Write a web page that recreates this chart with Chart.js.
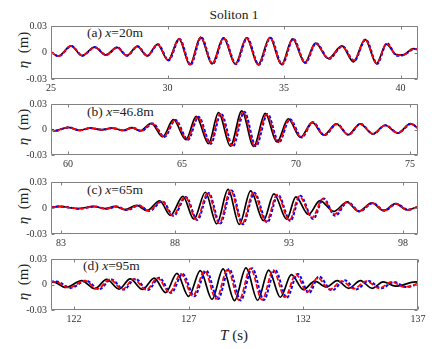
<!DOCTYPE html>
<html><head><meta charset="utf-8">
<script src="https://cdn.jsdelivr.net/npm/chart.js@4"></script>
<style>
html,body{margin:0;padding:0;background:#fff;}
#wrap{position:relative;width:448px;height:349px;overflow:hidden;font-family:"Liberation Serif","Times New Roman","DejaVu Serif",serif;color:#222;}
canvas{position:absolute;left:0;}
.lbl{position:absolute;white-space:pre;line-height:1;}
.ylab{position:absolute;white-space:pre;line-height:1;font-size:15px;transform:translate(-50%,-50%) rotate(-90deg);}
i{font-style:italic;}
</style></head><body><div id="wrap">
<div class="lbl" style="left:234px;top:8px;font-size:13.5px;transform:translateX(-50%);">Soliton 1</div>
<div class="lbl" style="left:87px;top:26px;font-size:13.5px;">(a) <i>x</i>=20m</div>
<div class="lbl" style="left:87px;top:105px;font-size:13.5px;">(b) <i>x</i>=46.8m</div>
<div class="lbl" style="left:87px;top:183px;font-size:13.5px;">(c) <i>x</i>=65m</div>
<div class="lbl" style="left:83px;top:259px;font-size:13.5px;">(d) <i>x</i>=95m</div>
<div class="ylab" style="left:23px;top:50px;"><i>η</i>  (m)</div>
<div class="ylab" style="left:23px;top:127px;"><i>η</i>  (m)</div>
<div class="ylab" style="left:23px;top:206px;"><i>η</i>  (m)</div>
<div class="ylab" style="left:23px;top:282px;"><i>η</i>  (m)</div>
<div class="lbl" style="left:234px;top:328px;font-size:15px;transform:translateX(-50%);"><i>T</i> (s)</div>
<canvas id="ca" width="448" height="81" style="top:16px"></canvas>
<canvas id="cb" width="448" height="79" style="top:94px"></canvas>
<canvas id="cc" width="448" height="80" style="top:172px"></canvas>
<canvas id="cd" width="448" height="79" style="top:249px"></canvas>
</div>
<script>
// ---- tick values ----
const yTicks = [-0.03, 0, 0.03];
const xTicksA = [25, 30, 35, 40];
const xTicksB = [60, 65, 70, 75];
const xTicksC = [83, 88, 93, 98];
const xTicksD = [122, 127, 132, 137];

// ---- (a) x=20m : [T (s), eta (m)] at crests/troughs ----
const aBlack = [[25,0.0005],[25.31,-0.004],[25.86,0.0075],[26.33,-0.0035],[26.87,0.006],[27.35,-0.0028],[27.83,0.0058],[28.25,-0.0035],[28.7,0.007],[29.12,-0.0038],[29.57,0.0093],[30.02,-0.0088],[30.49,0.0155],[30.96,-0.0138],[31.42,0.0175],[31.91,-0.0128],[32.4,0.0165],[32.91,-0.013],[33.39,0.0165],[33.89,-0.0138],[34.39,0.017],[34.89,-0.0135],[35.37,0.0155],[35.89,-0.0115],[36.35,0.0105],[36.9,-0.0068],[37.48,0.0075],[37.98,-0.0105],[38.48,0.0148],[38.97,-0.0125],[39.39,0.0095],[39.82,-0.0025],[40.1,-0.0028],[40.55,0.0045],[40.75,0.003]];
const aBlue  = [[25,0.0005],[25.33,-0.0041],[25.88,0.0074],[26.35,-0.0036],[26.89,0.006],[27.37,-0.0029],[27.85,0.0058],[28.27,-0.0036],[28.72,0.007],[29.14,-0.0039],[29.6,0.0092],[30.05,-0.009],[30.52,0.0153],[30.99,-0.014],[31.45,0.0172],[31.94,-0.013],[32.43,0.0163],[32.94,-0.0132],[33.42,0.0163],[33.92,-0.014],[34.42,0.0168],[34.92,-0.0137],[35.4,0.0154],[35.92,-0.0118],[36.38,0.0106],[36.93,-0.0072],[37.51,0.007],[38.01,-0.0095],[38.51,0.0147],[39.0,-0.0128],[39.42,0.0105],[39.85,-0.0038],[40.14,-0.003],[40.6,0.004],[40.75,0.0035]];
const aRed   = [[25,0.0005],[25.32,-0.004],[25.87,0.0074],[26.34,-0.0035],[26.88,0.006],[27.36,-0.0028],[27.84,0.0058],[28.26,-0.0035],[28.71,0.007],[29.13,-0.0038],[29.58,0.0092],[30.03,-0.0088],[30.5,0.0155],[30.97,-0.0138],[31.43,0.0172],[31.92,-0.0128],[32.41,0.0163],[32.92,-0.013],[33.4,0.0162],[33.9,-0.0138],[34.4,0.0168],[34.9,-0.0135],[35.38,0.0153],[35.9,-0.0115],[36.36,0.0102],[36.91,-0.0068],[37.49,0.0068],[37.99,-0.009],[38.49,0.0145],[38.98,-0.0125],[39.4,0.0098],[39.84,-0.003],[40.12,-0.0028],[40.58,0.0042],[40.75,0.0035]];

// ---- (b) x=46.8m ----
const bBlack = [[59.25,0],[59.4,-0.0015],[60.0,0.0026],[60.48,-0.001],[60.96,0.0017],[61.47,-0.0003],[61.91,0.0017],[62.42,-0.0011],[62.79,0.0022],[63.15,-0.0016],[63.65,0.0073],[64.15,-0.0085],[64.62,0.0115],[65.17,-0.012],[65.62,0.0155],[66.16,-0.0165],[66.6,0.0198],[67.12,-0.0195],[67.62,0.0218],[68.14,-0.0198],[68.65,0.019],[69.16,-0.0147],[69.66,0.0124],[70.19,-0.0092],[70.71,0.0084],[71.21,-0.0066],[71.77,0.0065],[72.28,-0.0062],[72.81,0.0065],[73.37,-0.0052],[73.9,0.005],[74.46,-0.0042],[75.02,0.007],[75.35,0.0015]];
const bBlue  = [[59.25,0],[59.43,-0.0015],[60.03,0.0025],[60.51,-0.001],[60.99,0.0017],[61.5,-0.0004],[61.94,0.0017],[62.46,-0.0012],[62.84,0.0022],[63.21,-0.0017],[63.72,0.007],[64.23,-0.0087],[64.71,0.0112],[65.26,-0.0122],[65.72,0.015],[66.26,-0.0168],[66.71,0.0188],[67.23,-0.0197],[67.73,0.0208],[68.24,-0.0198],[68.75,0.0182],[69.25,-0.0152],[69.73,0.0122],[70.25,-0.0093],[70.74,0.0086],[71.25,-0.0068],[71.8,0.0066],[72.3,-0.0062],[72.83,0.0066],[73.39,-0.0052],[73.92,0.005],[74.48,-0.0042],[75.04,0.0066],[75.35,0.0018]];
const bRed   = [[59.25,0],[59.42,-0.0015],[60.02,0.0025],[60.5,-0.001],[60.98,0.0017],[61.49,-0.0004],[61.93,0.0017],[62.45,-0.0012],[62.82,0.0022],[63.19,-0.0017],[63.69,0.007],[64.2,-0.0085],[64.68,0.011],[65.22,-0.0118],[65.68,0.0148],[66.22,-0.0162],[66.67,0.0185],[67.18,-0.019],[67.68,0.0205],[68.19,-0.0195],[68.71,0.0178],[69.21,-0.015],[69.7,0.0118],[70.22,-0.009],[70.73,0.0083],[71.23,-0.0066],[71.79,0.0064],[72.29,-0.006],[72.82,0.0064],[73.38,-0.0051],[73.91,0.0049],[74.47,-0.0041],[75.03,0.0066],[75.35,0.0016]];

// ---- (c) x=65m ----
const cBlack = [[82.56,0.0005],[82.88,0.0018],[83.76,-0.0007],[84.42,0.0018],[84.93,-0.0007],[85.37,0.0018],[85.8,-0.0018],[86.32,0.003],[86.76,-0.003],[87.33,0.0083],[87.8,-0.0085],[88.35,0.0133],[88.83,-0.013],[89.33,0.0182],[89.83,-0.0182],[90.33,0.0215],[90.82,-0.019],[91.32,0.0198],[91.88,-0.0145],[92.34,0.0163],[92.9,-0.013],[93.3,0.0128],[93.85,-0.0075],[94.36,0.0085],[94.96,-0.004],[95.55,0.0068],[96.05,-0.0038],[96.64,0.0058],[97.15,-0.003],[97.67,0.005],[98.18,-0.0022],[98.66,0.0015]];
const cBlue  = [[82.56,0.0006],[82.94,0.0017],[83.82,-0.0008],[84.48,0.0017],[85.0,-0.001],[85.44,0.0016],[85.9,-0.0024],[86.43,0.003],[86.88,-0.0034],[87.45,0.0078],[87.94,-0.009],[88.48,0.0128],[88.98,-0.0138],[89.48,0.0172],[89.98,-0.018],[90.48,0.0202],[90.98,-0.0188],[91.48,0.0175],[92.05,-0.0165],[92.52,0.0152],[93.06,-0.015],[93.5,0.014],[94.06,-0.0128],[94.52,0.011],[95.02,-0.009],[95.58,0.007],[96.1,-0.004],[96.68,0.0056],[97.2,-0.003],[97.72,0.0048],[98.22,-0.002],[98.66,0.0012]];
const cRed   = [[82.56,0.0006],[82.92,0.0017],[83.8,-0.0008],[84.46,0.0017],[84.98,-0.0009],[85.42,0.0017],[85.86,-0.0022],[86.4,0.0032],[86.84,-0.0032],[87.42,0.008],[87.9,-0.0088],[88.45,0.013],[88.94,-0.0135],[89.44,0.0175],[89.94,-0.0178],[90.44,0.0205],[90.94,-0.0185],[91.44,0.0178],[92.0,-0.016],[92.48,0.0155],[93.02,-0.0145],[93.45,0.0135],[94.02,-0.011],[94.48,0.0105],[95.0,-0.007],[95.56,0.0068],[96.08,-0.0038],[96.66,0.0056],[97.18,-0.003],[97.7,0.0048],[98.2,-0.0022],[98.66,0.0014]];

// ---- (d) x=95m ----
const dBlack = [[121,0.0025],[121.1,0.003],[121.65,-0.0035],[122.34,0.0045],[122.9,-0.005],[123.43,0.006],[123.97,-0.0055],[124.45,0.0065],[124.99,-0.0058],[125.5,0.0075],[126.0,-0.0095],[126.49,0.013],[127.0,-0.014],[127.51,0.0163],[128.02,-0.0175],[128.5,0.0183],[129.0,-0.019],[129.5,0.0195],[130.01,-0.0185],[130.49,0.017],[131.0,-0.015],[131.48,0.0115],[132.0,-0.006],[132.5,0.004],[133.0,-0.003],[133.48,0.0045],[133.98,-0.0045],[134.49,0.0045],[135.0,-0.0045],[135.48,0.003],[136.02,-0.002],[136.9,0.003],[137,0.0028]];
const dBlue  = [[121,0.0035],[121.25,0.0035],[121.85,-0.004],[122.53,0.0045],[123.1,-0.0055],[123.63,0.006],[124.18,-0.006],[124.67,0.0068],[125.22,-0.0065],[125.72,0.0078],[126.24,-0.0098],[126.74,0.0125],[127.25,-0.0138],[127.77,0.0162],[128.28,-0.0172],[128.77,0.0182],[129.27,-0.0188],[129.77,0.0192],[130.28,-0.0182],[130.77,0.0172],[131.28,-0.0155],[131.76,0.0125],[132.25,-0.01],[132.68,0.0095],[133.25,-0.007],[133.8,0.005],[134.3,-0.0058],[134.85,0.004],[135.4,-0.0045],[135.95,0.003],[136.5,-0.003],[137,0.0005]];
const dRed   = [[121,0.003],[121.2,0.0032],[121.78,-0.0038],[122.47,0.0045],[123.03,-0.0052],[123.57,0.006],[124.12,-0.0058],[124.6,0.0065],[125.15,-0.0062],[125.65,0.0075],[126.17,-0.0095],[126.67,0.0125],[127.18,-0.0135],[127.7,0.016],[128.2,-0.017],[128.7,0.018],[129.2,-0.0185],[129.7,0.019],[130.2,-0.018],[130.69,0.017],[131.2,-0.015],[131.68,0.012],[132.17,-0.009],[132.62,0.008],[133.15,-0.006],[133.68,0.004],[134.2,-0.005],[134.75,0.004],[135.3,-0.0045],[135.85,0.003],[136.4,-0.003],[137,0.0012]];

const FONT = '"Liberation Serif","Times New Roman","DejaVu Serif",serif';
const PLOT_H = {ca: 57, cb: 55, cc: 56, cd: 55};

const framePlugin = {
  id: 'frame',
  afterDraw(chart) {
    const {ctx, chartArea: a, scales: {x, y}} = chart;
    ctx.save();
    ctx.strokeStyle = '#808080';
    ctx.lineWidth = 1;
    ctx.beginPath();
    const L = Math.round(a.left) + 0.5, R = Math.round(a.right) - 0.5;
    const T = Math.round(a.top) + 0.5, B = Math.round(a.bottom) - 0.5;
    ctx.rect(L, T, R - L, B - T);
    x.ticks.forEach(t => {
      const p = Math.round(x.getPixelForValue(t.value)) + 0.5;
      ctx.moveTo(p, B); ctx.lineTo(p, B - 3);
      ctx.moveTo(p, T); ctx.lineTo(p, T + 3);
    });
    y.ticks.forEach(t => {
      const p = Math.round(y.getPixelForValue(t.value)) + 0.5;
      ctx.moveTo(L, p); ctx.lineTo(L + 3, p);
      ctx.moveTo(R, p); ctx.lineTo(R - 3, p);
    });
    ctx.stroke();
    ctx.restore();
  }
};

function toPts(arr) { return arr.map(p => ({x: p[0], y: p[1]})); }

function makePanel(id, xmin, xmax, xticks, black, blue, red) {
  const cv = document.getElementById(id);
  new Chart(cv.getContext('2d'), {
    type: 'line',
    data: {
      datasets: [
        {label: 'red', data: toPts(red), borderColor: '#ff0000', borderDash: [5, 2], borderWidth: 1.7,
         pointRadius: 0, cubicInterpolationMode: 'monotone', fill: false},
        {label: 'blue', data: toPts(blue), borderColor: '#0000ff', borderDash: [3, 2], borderWidth: 2,
         pointRadius: 0, cubicInterpolationMode: 'monotone', fill: false},
        {label: 'black', data: toPts(black), borderColor: '#000000', borderWidth: 1.7,
         pointRadius: 0, cubicInterpolationMode: 'monotone', fill: false}
      ]
    },
    options: {
      responsive: false,
      animation: false,
      events: [],
      layout: {padding: {top: 6, right: 30, left: 0, bottom: 0}},
      plugins: {legend: {display: false}, tooltip: {enabled: false}, title: {display: false}},
      scales: {
        x: {
          type: 'linear', min: xmin, max: xmax,
          afterFit(s) { s.height = cv.height - 6 - PLOT_H[id]; },
          afterBuildTicks(s) { s.ticks = xticks.map(v => ({value: v})); },
          grid: {display: false, drawTicks: false},
          border: {display: false},
          ticks: {font: {family: FONT, size: 10}, color: '#333', padding: 3, maxRotation: 0, autoSkip: false,
                  callback: v => String(v)}
        },
        y: {
          min: -0.03, max: 0.03,
          afterFit(s) { s.width = 51; },
          afterBuildTicks(s) { s.ticks = yTicks.map(v => ({value: v})); },
          grid: {display: false, drawTicks: false},
          border: {display: false},
          ticks: {font: {family: FONT, size: 10}, color: '#333', padding: 4,
                  callback: v => (Math.abs(v) < 1e-9 ? '0' : v.toFixed(2))}
        }
      }
    },
    plugins: [framePlugin]
  });
}

makePanel('ca', 25, 40.75, xTicksA, aBlack, aBlue, aRed);
makePanel('cb', 59.25, 75.35, xTicksB, bBlack, bBlue, bRed);
makePanel('cc', 82.56, 98.66, xTicksC, cBlack, cBlue, cRed);
makePanel('cd', 121, 137, xTicksD, dBlack, dBlue, dRed);
</script>
</body></html>
